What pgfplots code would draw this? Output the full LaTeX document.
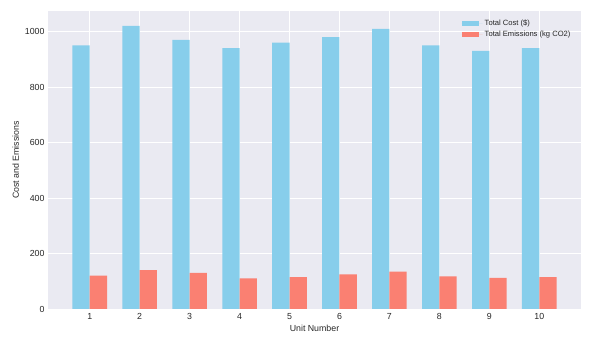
\documentclass[border=0pt]{standalone}
\usepackage{fontspec}
\setmainfont{Liberation Sans}
\usepackage{pgfplots}
\pgfplotsset{compat=1.18}
\definecolor{bgc}{HTML}{EAEAF2}
\definecolor{costc}{HTML}{87CEEB}
\definecolor{emisc}{HTML}{FA8072}
\definecolor{txtc}{HTML}{262626}
\begin{document}
\begin{tikzpicture}
\begin{axis}[
    scale only axis,
    width=533pt, height=298pt,
    xmin=0.165, xmax=10.835,
    ymin=0, ymax=1074,
    axis background/.style={fill=bgc},
    axis line style={draw=none},
    major tick length=0pt,
    xtick={1,...,10},
    ytick={0,200,...,1000},
    yticklabel style={/pgf/number format/1000 sep={}},
    xticklabel style={yshift=-1pt},
    grid=major,
    major grid style={white, line width=0.7pt},
    tick label style={font=\fontsize{8.8}{10}\selectfont, text=txtc},
    /pgf/number format/assume math mode=true,
    label style={font=\fontsize{8.8}{10}\selectfont, text=txtc},
    xlabel={Unit Number},
    ylabel={Cost and Emissions},
    xlabel style={yshift=1pt},
    ylabel style={yshift=-1pt},
    legend style={draw=none, fill=none, at={(0.99,0.985)}, anchor=north east,
        font=\fontsize{7.6}{9}\selectfont, text=txtc, row sep=0.5pt},
    legend image code/.code={\fill[#1] (0pt,-2.5pt) rectangle (17pt,2.5pt);
        \path (0pt,0pt) -- (21pt,0pt);},
    legend cell align=left,
]
\addplot[fill=costc, draw=none, ybar, bar width=17.3pt, bar shift=-8.65pt] coordinates {
(1,950) (2,1020) (3,970) (4,940) (5,960) (6,980) (7,1010) (8,950) (9,930) (10,940)};
\addlegendentry{Total Cost (\$)}
\addplot[fill=emisc, draw=none, ybar, bar width=17.3pt, bar shift=8.65pt] coordinates {
(1,120) (2,140) (3,130) (4,110) (5,115) (6,125) (7,135) (8,118) (9,112) (10,115)};
\addlegendentry{Total Emissions (kg CO2)}
\end{axis}
\path (current axis.south west) ++(-48pt,-32pt);
\path (current axis.north east) ++(14pt,11pt);
\end{tikzpicture}
\end{document}
